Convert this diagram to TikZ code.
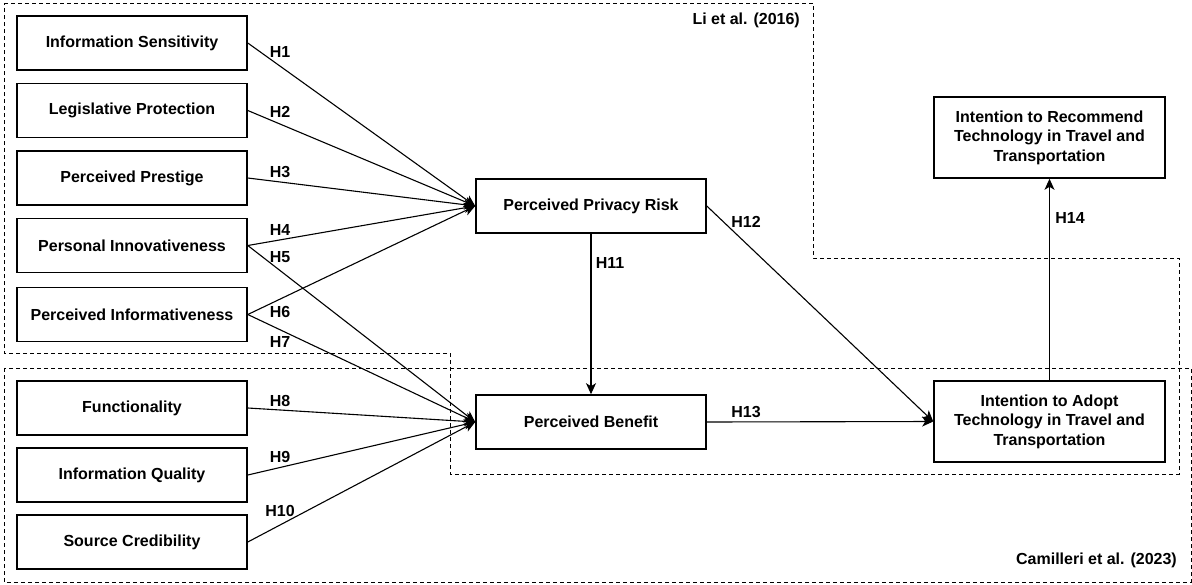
\documentclass[tikz,border=0pt]{standalone}
\usepackage{fontspec}
\setmainfont{Liberation Sans}
\usetikzlibrary{arrows.meta}

\begin{document}
\begin{tikzpicture}[x=1pt, y=-1pt,
    box/.style={draw, line width=1.6pt, minimum width=230pt, minimum height=54pt, inner sep=2pt, align=center, font=\fontsize{16}{19.5}\selectfont\bfseries},
    hyp/.style={-{Stealth[length=11pt, width=10pt, inset=3pt]}, line width=1.1pt},
    lbl/.style={inner sep=0pt, font=\fontsize{16}{19}\selectfont\bfseries},
    region/.style={dash pattern=on 4pt off 3pt, line width=0.9pt}]
  \useasboundingbox (0, 0) rectangle (1192, 584);

  % study boundaries
  \draw [region] (4, 3) -- (813, 3) -- (813, 258) -- (1179, 258) -- (1179, 474) -- (450, 474) -- (450, 353) -- (4, 353) -- cycle;
  \draw [region] (4, 368) rectangle (1191, 582);
  \node [lbl, anchor=east] (li) at (800, 20) {Li et al. (2016)};
  \node [lbl, anchor=east] (cam) at (1177, 560) {Camilleri et al. (2023)};

  % antecedents
  \node [box] (infsens) at (132, 43) {Information Sensitivity};
  \node [box] (legis) at (132, 110.5) {Legislative Protection};
  \node [box] (prestige) at (132, 178) {Perceived Prestige};
  \node [box] (innov) at (132, 245.5) {Personal Innovativeness};
  \node [box] (inform) at (132, 314.5) {Perceived Informativeness};
  \node [box] (func) at (132, 408) {Functionality};
  \node [box] (quality) at (132, 475) {Information Quality};
  \node [box] (cred) at (132, 542) {Source Credibility};

  % mediators and outcomes
  \node [box] (risk) at (591, 206) {Perceived Privacy Risk};
  \node [box] (benefit) at (591, 422) {Perceived Benefit};
  \node [box, minimum width=231pt, minimum height=81pt] (adopt) at (1049.5, 421.5) {Intention to Adopt\\Technology in Travel and\\Transportation};
  \node [box, minimum width=231pt, minimum height=81pt] (recommend) at (1049.5, 137.5) {Intention to Recommend\\Technology in Travel and\\Transportation};

  % hypotheses
  \draw [hyp] (infsens.east) -- (risk.west);
  \draw [hyp] (legis.east) -- (risk.west);
  \draw [hyp] (prestige.east) -- (risk.west);
  \draw [hyp] (innov.east) -- (risk.west);
  \draw [hyp] (innov.east) -- (benefit.west);
  \draw [hyp] (inform.east) -- (risk.west);
  \draw [hyp] (inform.east) -- (benefit.west);
  \draw [hyp] (func.east) -- (benefit.west);
  \draw [hyp] (quality.east) -- (benefit.west);
  \draw [hyp] (cred.east) -- (benefit.west);
  \draw [hyp] (risk.south) -- (benefit.north);
  \draw [hyp] (risk.east) -- (adopt.west);
  \draw [hyp] (benefit.east) -- (adopt.west);
  \draw [hyp] (adopt.north) -- (recommend.south);

  \node [lbl] (h1) at (280, 52) {H1};
  \node [lbl] (h2) at (280, 112) {H2};
  \node [lbl] (h3) at (280, 172) {H3};
  \node [lbl] (h4) at (280, 230) {H4};
  \node [lbl] (h5) at (280, 257) {H5};
  \node [lbl] (h6) at (280, 312) {H6};
  \node [lbl] (h7) at (280, 342) {H7};
  \node [lbl] (h8) at (280, 401) {H8};
  \node [lbl] (h9) at (280, 457) {H9};
  \node [lbl] (h10) at (280, 511) {H10};
  \node [lbl] (h11) at (610, 263) {H11};
  \node [lbl] (h12) at (746, 222) {H12};
  \node [lbl] (h13) at (746, 412) {H13};
  \node [lbl] (h14) at (1070, 218) {H14};
\end{tikzpicture}
\end{document}
